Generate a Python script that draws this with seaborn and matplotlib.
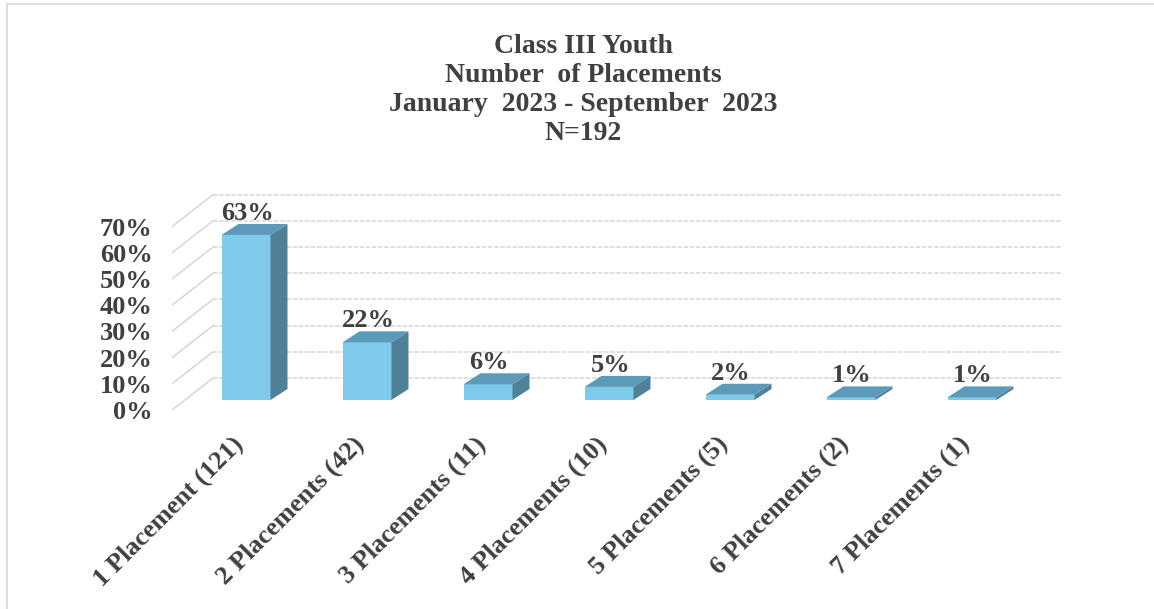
import numpy as np
import pandas as pd
import seaborn as sns
import matplotlib
matplotlib.use("Agg")
import matplotlib.pyplot as plt
from matplotlib.patches import Polygon
from matplotlib.lines import Line2D

# ---- data -------------------------------------------------------------
categories = [
    "1 Placement (121)",
    "2 Placements (42)",
    "3 Placements (11)",
    "4 Placements (10)",
    "5 Placements (5)",
    "6 Placements (2)",
    "7 Placements (1)",
]
percents = [63, 22, 6, 5, 2, 1, 1]
y_ticks = [0, 10, 20, 30, 40, 50, 60, 70]
y_tick_labels = ["0%", "10%", "20%", "30%", "40%", "50%", "60%", "70%"]
title_lines = [
    "Class III Youth",
    "Number  of Placements",
    "January  2023 - September  2023",
    "N=192",
]

# ---- style ------------------------------------------------------------
sns.set_theme(style="white")
plt.rcParams["font.family"] = ["Liberation Serif", "DejaVu Serif"]
plt.rcParams["font.weight"] = "bold"
TEXT = "#404040"
FRONT = "#7fc9ea"
TOP = "#5d9aba"
SIDE = "#4f8199"
GRID = "#d6d6d6"

W, H, DPI = 1154, 609, 100
fig = plt.figure(figsize=(W / DPI, H / DPI), dpi=DPI)
fig.patch.set_facecolor("white")

# axes spans the front plane (left) to the back wall's right edge
PX_PER_CAT = 121.0
PX_PER_PCT = 2.62
x_left, x_right = 172, 1061
y_base = 410
ymax = 85
ax = fig.add_axes([x_left / W, (H - y_base) / H,
                   (x_right - x_left) / W, ymax * PX_PER_PCT / H])
ax.set_facecolor("none")

# oblique projection offsets (data units)
WALL_DX, WALL_DY = 41 / PX_PER_CAT, 32 / PX_PER_PCT      # back wall depth
BAR_X0, BAR_Y0 = 13 / PX_PER_CAT, 10 / PX_PER_PCT        # bar front plane
BAR_DX, BAR_DY = 17 / PX_PER_CAT, 11 / PX_PER_PCT        # bar depth
xmin = -(233 - x_left) / PX_PER_CAT
xmax = xmin + (x_right - x_left) / PX_PER_CAT

# ---- back wall grid and side-wall oblique lines -------------------------
for v in y_ticks:
    ax.plot([xmin + WALL_DX, xmax], [v + WALL_DY, v + WALL_DY],
            color=GRID, lw=1.1, ls=(0, (3, 1)), zorder=1, solid_capstyle="butt")
    ax.plot([xmin, xmin + WALL_DX], [v, v + WALL_DY],
            color=GRID, lw=1.1, zorder=1)

# ---- bars (front faces) ----------------------------------------------
df = pd.DataFrame({"category": categories, "percent": percents})
sns.barplot(data=df, x="category", y="percent", color=FRONT, saturation=1,
            width=49 / PX_PER_CAT, ax=ax, zorder=3, edgecolor="none")

for p in ax.patches:
    p.set_x(p.get_x() + BAR_X0)
    p.set_y(p.get_y() + BAR_Y0)
    x0, y0, w, h = p.get_x(), p.get_y(), p.get_width(), p.get_height()
    top = Polygon([(x0, y0 + h), (x0 + w, y0 + h),
                   (x0 + w + BAR_DX, y0 + h + BAR_DY), (x0 + BAR_DX, y0 + h + BAR_DY)],
                  closed=True, facecolor=TOP, edgecolor="none", zorder=3)
    side = Polygon([(x0 + w, y0), (x0 + w + BAR_DX, y0 + BAR_DY),
                    (x0 + w + BAR_DX, y0 + h + BAR_DY), (x0 + w, y0 + h)],
                   closed=True, facecolor=SIDE, edgecolor="none", zorder=3)
    ax.add_patch(top)
    ax.add_patch(side)
    ax.text(x0 + w / 2 + 0.01, y0 + h + BAR_DY + 1.5, f"{h:.0f}%",
            ha="center", va="baseline", fontsize=19, color=TEXT,
            fontweight="bold", zorder=4)

# ---- axes & ticks -----------------------------------------------------
ax.set_xlim(xmin, xmax)
ax.set_ylim(0, ymax)
ax.set_xlabel("")
ax.set_ylabel("")
for s in ax.spines.values():
    s.set_visible(False)

ax.set_yticks(y_ticks, labels=y_tick_labels)
ax.tick_params(axis="y", length=0, pad=14, labelsize=19, labelcolor=TEXT)

ax.set_xticks(np.arange(len(categories)) + 7 / PX_PER_CAT, labels=categories)
ax.tick_params(axis="x", length=0, pad=22, labelsize=19, labelcolor=TEXT)
for lab in ax.get_xticklabels():
    lab.set_rotation(45)
    lab.set_ha("right")
    lab.set_va("center")
    lab.set_rotation_mode("anchor")
    lab.set_fontweight("bold")
for lab in ax.get_yticklabels():
    lab.set_fontweight("bold")

# ---- title ------------------------------------------------------------
fig.text(583 / W, 1 - 90 / H, "\n".join(title_lines), ha="center", va="center",
         fontsize=20, fontweight="bold", color=TEXT, linespacing=1.2)

# ---- chart-area border --------------------------------------------------
fig.add_artist(Line2D([6.5 / W, 6.5 / W], [0, 1 - 3.5 / H],
                      transform=fig.transFigure, color="#d9d9d9", lw=1.2))
fig.add_artist(Line2D([6.5 / W, 1], [1 - 3.5 / H, 1 - 3.5 / H],
                      transform=fig.transFigure, color="#d9d9d9", lw=1.2))

fig.savefig("out.png", dpi=DPI, facecolor="white")
